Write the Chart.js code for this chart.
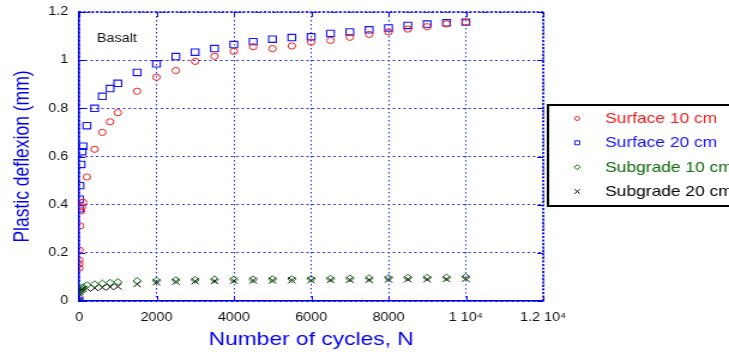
<!DOCTYPE html>
<html>
<head>
<meta charset="utf-8">
<script src="https://cdn.jsdelivr.net/npm/chart.js@4.4.1/dist/chart.umd.min.js"></script>
<style>
  html, body { margin: 0; padding: 0; background: #fff; overflow: hidden; }
  #stage { position: relative; width: 608px; height: 352px; transform: scaleX(1.19901); transform-origin: 0 0; }
</style>
</head>
<body>
<div id="stage"><canvas id="chart"></canvas></div>
<script>
// Plastic deflexion (mm) against number of load cycles, basalt section
const surface10Cycles = [1, 2, 5, 10, 25, 50, 75, 100, 200, 400, 600, 800, 1000,
  1500, 2000, 2500, 3000, 3500, 4000, 4500, 5000, 5500, 6000, 6500, 7000, 7500, 8000, 8500, 9000, 9500, 10000];
const surface10Defl = [0.136, 0.154, 0.169, 0.211, 0.312, 0.374, 0.392, 0.410, 0.515, 0.630, 0.700, 0.744, 0.782,
  0.871, 0.929, 0.957, 0.995, 1.016, 1.037, 1.056, 1.048, 1.059, 1.075, 1.082, 1.095, 1.107, 1.117, 1.129, 1.139, 1.151, 1.157];

const surface20Cycles = [0, 5, 10, 20, 50, 75, 100, 200, 400, 600, 800, 1000,
  1500, 2000, 2500, 3000, 3500, 4000, 4500, 5000, 5500, 6000, 6500, 7000, 7500, 8000, 8500, 9000, 9500, 10000];
const surface20Defl = [0, 0.383, 0.423, 0.479, 0.567, 0.620, 0.643, 0.728, 0.800, 0.850, 0.882, 0.904,
  0.949, 0.985, 1.015, 1.033, 1.048, 1.065, 1.077, 1.087, 1.094, 1.097, 1.111, 1.117, 1.126, 1.134, 1.144, 1.150, 1.155, 1.158];

const subgrade10Cycles = [0, 10, 25, 50, 100, 200, 400, 600, 800, 1000,
  1500, 2000, 2500, 3000, 3500, 4000, 4500, 5000, 5500, 6000, 6500, 7000, 7500, 8000, 8500, 9000, 9500, 10000];
const subgrade10Defl = [0, 0.035, 0.045, 0.050, 0.058, 0.066, 0.070, 0.073, 0.076, 0.079,
  0.083, 0.085, 0.087, 0.088, 0.090, 0.090, 0.090, 0.091, 0.091, 0.092, 0.093, 0.094, 0.095, 0.096, 0.097, 0.097, 0.098, 0.100];

const subgrade20Cycles = [0, 5, 10, 25, 50, 100, 200, 400, 600, 800, 1000,
  1500, 2000, 2500, 3000, 3500, 4000, 4500, 5000, 5500, 6000, 6500, 7000, 7500, 8000, 8500, 9000, 9500, 10000];
const subgrade20Defl = [0, 0.030, 0.038, 0.045, 0.048, 0.050, 0.052, 0.054, 0.056, 0.058, 0.060,
  0.070, 0.078, 0.080, 0.082, 0.083, 0.084, 0.085, 0.085, 0.086, 0.086, 0.087, 0.088, 0.088, 0.089, 0.090, 0.090, 0.091, 0.092];

const seriesNames = ['Surface 10 cm', 'Surface 20 cm', 'Subgrade 10 cm', 'Subgrade 20 cm'];
const xTickLabels = ['0', '2000', '4000', '6000', '8000', '1 10\u2074', '1.2 10\u2074'];
const yTickLabels = ['0', '0.2', '0.4', '0.6', '0.8', '1', '1.2'];
const panelLabel = 'Basalt';

const FONT = '"Liberation Sans", Arial, Helvetica, sans-serif';
const AXIS_BLUE = '#0000f0';
const GRID_BLUE = '#2a2aff';
const colors = ['#f01c1c', '#1414f0', '#0c6a0c', '#000000'];

const toPoints = (xs, ys) => xs.map((x, i) => ({ x: x, y: ys[i] }));

// inward tick marks, dotted top/right frame, panel label and boxed legend
const framePlugin = {
  id: 'frameAndLegend',
  beforeDatasetsDraw(chart) {
    const { ctx, chartArea: a, scales: { x, y } } = chart;
    ctx.save();
    ctx.strokeStyle = GRID_BLUE;
    ctx.lineWidth = 2;
    ctx.setLineDash([2, 1.5]);
    ctx.beginPath();
    ctx.moveTo(a.left, a.top); ctx.lineTo(a.right, a.top);
    ctx.moveTo(a.right, a.top); ctx.lineTo(a.right, a.bottom);
    ctx.stroke();
    ctx.setLineDash([]);
    ctx.lineWidth = 1;
    ctx.strokeStyle = AXIS_BLUE;
    ctx.beginPath();
    x.ticks.forEach(t => {
      const px = Math.round(x.getPixelForValue(t.value)) + 0.5;
      ctx.moveTo(px, a.bottom); ctx.lineTo(px, a.bottom - 5);
      ctx.moveTo(px, a.top); ctx.lineTo(px, a.top + 5);
    });
    y.ticks.forEach(t => {
      const py = Math.round(y.getPixelForValue(t.value)) + 0.5;
      ctx.moveTo(a.left, py); ctx.lineTo(a.left + 5, py);
      ctx.moveTo(a.right, py); ctx.lineTo(a.right - 5, py);
    });
    ctx.stroke();
    ctx.restore();
  },
  afterDraw(chart) {
    const { ctx } = chart;
    ctx.save();
    ctx.fillStyle = '#111';
    ctx.font = '12px ' + FONT;
    ctx.textBaseline = 'alphabetic';
    ctx.textAlign = 'left';
    ctx.fillText(panelLabel, 80.8, 42);

    // legend box
    const bx = 457, by = 105, bw = 200, bh = 101;
    ctx.strokeStyle = '#000';
    ctx.lineWidth = 2;
    ctx.strokeRect(bx, by, bw, bh);
    const rows = [118.5, 142.8, 167.2, 191.5];
    const mx = 481.4, tx = 504.7;
    ctx.font = '14.5px ' + FONT;
    ctx.textBaseline = 'middle';
    rows.forEach((ry, i) => {
      ctx.strokeStyle = colors[i];
      ctx.fillStyle = colors[i];
      ctx.lineWidth = 1;
      ctx.beginPath();
      if (i === 0) {
        ctx.arc(mx, ry, 2, 0, Math.PI * 2);
      } else if (i === 1) {
        ctx.rect(mx - 2, ry - 2, 4, 4);
      } else if (i === 2) {
        ctx.moveTo(mx - 2.5, ry); ctx.lineTo(mx, ry - 2.5); ctx.lineTo(mx + 2.5, ry); ctx.lineTo(mx, ry + 2.5); ctx.closePath();
      } else {
        ctx.moveTo(mx - 2.2, ry - 2.2); ctx.lineTo(mx + 2.2, ry + 2.2);
        ctx.moveTo(mx + 2.2, ry - 2.2); ctx.lineTo(mx - 2.2, ry + 2.2);
      }
      ctx.stroke();
      ctx.fillText(seriesNames[i], tx, ry + 0.5);
    });
    ctx.restore();
  }
};

new Chart(document.getElementById('chart'), {
  type: 'scatter',
  data: {
    datasets: [
      { label: seriesNames[0], data: toPoints(surface10Cycles, surface10Defl), pointStyle: 'circle', pointRadius: 3.1,
        borderColor: colors[0], backgroundColor: 'rgba(0,0,0,0)', pointBorderWidth: 1 },
      { label: seriesNames[1], data: toPoints(surface20Cycles, surface20Defl), pointStyle: 'rect', pointRadius: 4.5,
        borderColor: colors[1], backgroundColor: 'rgba(0,0,0,0)', pointBorderWidth: 1.1 },
      { label: seriesNames[2], data: toPoints(subgrade10Cycles, subgrade10Defl), pointStyle: 'rectRot', pointRadius: 3.4,
        borderColor: colors[2], backgroundColor: 'rgba(0,0,0,0)', pointBorderWidth: 1 },
      { label: seriesNames[3], data: toPoints(subgrade20Cycles, subgrade20Defl), pointStyle: 'crossRot', pointRadius: 4.3,
        borderColor: colors[3], backgroundColor: 'rgba(0,0,0,0)', pointBorderWidth: 1 }
    ]
  },
  options: {
    responsive: true,
    maintainAspectRatio: false,
    animation: false,
    devicePixelRatio: 1,
    layout: { padding: { left: 0, top: 12, right: 155, bottom: 0 } },
    plugins: { legend: { display: false }, tooltip: { enabled: false } },
    scales: {
      x: {
        type: 'linear', min: 0, max: 12000,
        afterFit: s => { s.height = 51; s.paddingLeft = 0; s.paddingRight = 0; },
        ticks: { stepSize: 2000, padding: 9, color: '#111', font: { family: FONT, size: 12 },
          maxRotation: 0, autoSkip: false, callback: (v, i) => xTickLabels[i] },
        grid: { color: GRID_BLUE, lineWidth: 1, drawTicks: false },
        border: { display: true, color: AXIS_BLUE, width: 1.5, dash: [1.5, 2.5] },
        title: { display: true, text: 'Number of cycles, N', color: AXIS_BLUE,
          font: { family: FONT, size: 19 }, padding: { top: 0, bottom: 0.8 } }
      },
      y: {
        type: 'linear', min: 0, max: 1.2,
        afterFit: s => { s.width = 66; s.paddingTop = 0; s.paddingBottom = 0; },
        ticks: { stepSize: 0.2, padding: 9, color: '#111', font: { family: FONT, size: 12 },
          autoSkip: false, callback: (v, i) => yTickLabels[i] },
        grid: { color: GRID_BLUE, lineWidth: 1, drawTicks: false },
        border: { display: true, color: AXIS_BLUE, width: 1.5, dash: [2, 2.5] },
        title: { display: true, text: 'Plastic deflexion (mm)', color: AXIS_BLUE,
          font: { family: FONT, size: 17.5 }, padding: { top: 8.5, bottom: 0 } }
      }
    }
  },
  plugins: [framePlugin]
});
</script>
</body>
</html>
